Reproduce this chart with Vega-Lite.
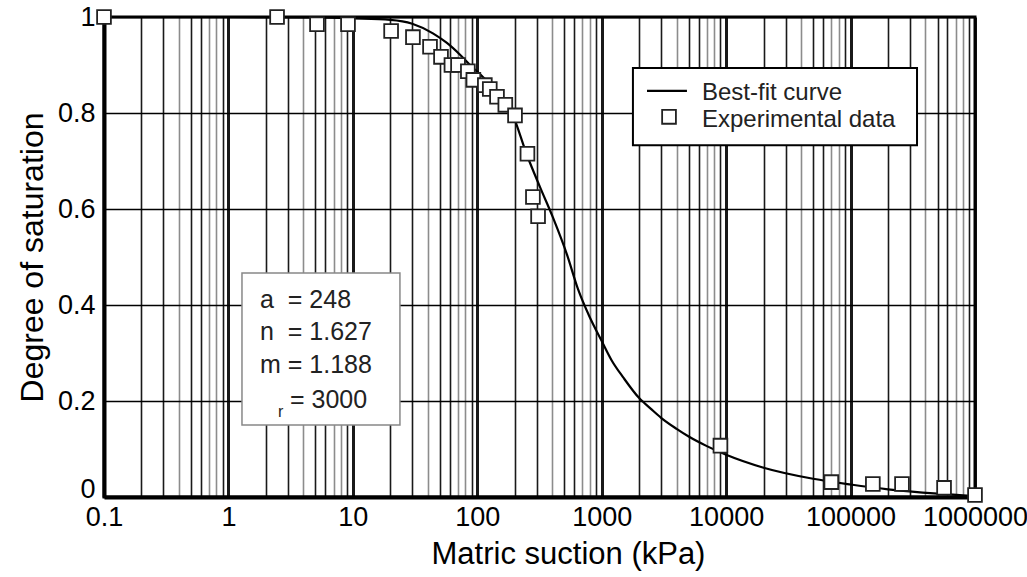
{
  "$schema": "https://vega.github.io/schema/vega-lite/v6.json",
  "width": 871,
  "height": 480,
  "autosize": {"type": "none"},
  "padding": {"left": 104, "top": 17, "right": 52, "bottom": 80},
  "background": "white",
  "config": {
    "font": "Liberation Sans",
    "view": {"stroke": "black", "strokeWidth": 3}
  },
  "datasets": {
    "curve": [
      {"psi": 0.1, "s": 1.0}, {"psi": 1, "s": 1.0}, {"psi": 5, "s": 0.999}, {"psi": 10, "s": 0.997},
      {"psi": 20, "s": 0.994}, {"psi": 30, "s": 0.986}, {"psi": 44, "s": 0.966}, {"psi": 57, "s": 0.946},
      {"psi": 73, "s": 0.921}, {"psi": 90, "s": 0.897}, {"psi": 111, "s": 0.875}, {"psi": 144, "s": 0.846},
      {"psi": 190, "s": 0.8}, {"psi": 251, "s": 0.712}, {"psi": 320, "s": 0.645}, {"psi": 406, "s": 0.582},
      {"psi": 526, "s": 0.505}, {"psi": 645, "s": 0.433}, {"psi": 800, "s": 0.375}, {"psi": 1000, "s": 0.325},
      {"psi": 1200, "s": 0.285}, {"psi": 1500, "s": 0.248}, {"psi": 2000, "s": 0.206}, {"psi": 2500, "s": 0.183},
      {"psi": 3000, "s": 0.165}, {"psi": 4000, "s": 0.142}, {"psi": 5000, "s": 0.126},
      {"psi": 7000, "s": 0.106}, {"psi": 10000, "s": 0.088}, {"psi": 20000, "s": 0.061}, {"psi": 50000, "s": 0.038},
      {"psi": 100000, "s": 0.026}, {"psi": 200000, "s": 0.016}, {"psi": 500000, "s": 0.007}, {"psi": 1000000, "s": 0.002}
    ],
    "experimental": [
      {"psi": 0.1, "s": 1.0}, {"psi": 2.46, "s": 1.0}, {"psi": 5.15, "s": 0.985}, {"psi": 9.14, "s": 0.985},
      {"psi": 20.3, "s": 0.971}, {"psi": 30.4, "s": 0.958}, {"psi": 41.7, "s": 0.938}, {"psi": 51.1, "s": 0.917},
      {"psi": 62, "s": 0.9}, {"psi": 70, "s": 0.9}, {"psi": 84, "s": 0.887}, {"psi": 93, "s": 0.869},
      {"psi": 115, "s": 0.858}, {"psi": 126, "s": 0.85}, {"psi": 144, "s": 0.834}, {"psi": 168, "s": 0.817},
      {"psi": 201, "s": 0.795}, {"psi": 253, "s": 0.715}, {"psi": 280, "s": 0.625}, {"psi": 308, "s": 0.585},
      {"psi": 9000, "s": 0.107}, {"psi": 70000, "s": 0.031}, {"psi": 151000, "s": 0.027}, {"psi": 259000, "s": 0.027},
      {"psi": 564000, "s": 0.019}, {"psi": 1000000, "s": 0.004}
    ],
    "paramBox": [{"psi": 1.285, "s": 0.4667, "psi2": 23.9, "s2": 0.15}],
    "legendBox": [{"psi": 1782, "s": 0.894, "psi2": 342000, "s2": 0.733}],
    "legendLine": [{"psi": 2312, "s": 0.846}, {"psi": 4842, "s": 0.846}],
    "legendSquare": [{"psi": 3475, "s": 0.792}],
    "legendText": [
      {"psi": 6397, "s": 0.827, "label": "Best-fit curve"},
      {"psi": 6397, "s": 0.771, "label": "Experimental data"}
    ],
    "paramText": [
      {"psi": 1.794, "s": 0.394, "label": "a\u00a0\u00a0= 248"},
      {"psi": 1.794, "s": 0.327, "label": "n\u00a0\u00a0= 1.627"},
      {"psi": 1.794, "s": 0.258, "label": "m = 1.188"},
      {"psi": 3.124, "s": 0.185, "label": "= 3000"}
    ],
    "paramSub": [{"psi": 2.5, "s": 0.167, "label": "r"}]
  },
  "encoding": {
    "x": {
      "field": "psi",
      "type": "quantitative",
      "scale": {"type": "log", "domain": [0.1, 1000000], "nice": false, "zero": false},
      "axis": {
        "title": "Matric suction (kPa)",
        "values": [0.1, 0.2, 0.3, 0.4, 0.5, 0.6, 0.7, 0.8, 0.9,
                   1, 2, 3, 4, 5, 6, 7, 8, 9,
                   10, 20, 30, 40, 50, 60, 70, 80, 90,
                   100, 200, 300, 400, 500, 600, 700, 800, 900,
                   1000, 2000, 3000, 4000, 5000, 6000, 7000, 8000, 9000,
                   10000, 20000, 30000, 40000, 50000, 60000, 70000, 80000, 90000,
                   100000, 200000, 300000, 400000, 500000, 600000, 700000, 800000, 900000,
                   1000000],
        "labelExpr": "abs(log(datum.value)/LN10 - round(log(datum.value)/LN10)) < 1e-6 ? format(datum.value, '~f') : ''",
        "labelOverlap": false,
        "labelFlush": false,
        "labelFontSize": 27,
        "labelColor": "black",
        "labelPadding": 7,
        "labelDx": -5,
        "ticks": false,
        "domainColor": "black",
        "domainWidth": 4,
        "grid": true,
        "gridColor": "black",
        "gridWidth": {"condition": {"test": "abs(log(datum.value)/LN10 - round(log(datum.value)/LN10)) < 1e-6", "value": 3}, "value": 1.6},
        "gridOpacity": {"condition": {"test": "indexof([4,7,8], round(datum.value/pow(10, floor(log(datum.value)/LN10 + 1e-9)))) >= 0", "value": 0.45}, "value": 0.9},
        "titleFontSize": 31,
        "titleFontWeight": "normal",
        "titleColor": "black",
        "titlePadding": 9,
        "titleX": 464
      }
    },
    "y": {
      "field": "s",
      "type": "quantitative",
      "scale": {"domain": [0, 1], "nice": false},
      "axis": {
        "title": "Degree of saturation",
        "values": [0, 0.2, 0.4, 0.6, 0.8, 1],
        "format": ".1~f",
        "labelFontSize": 27,
        "labelColor": "black",
        "labelPadding": 9,
        "labelFlush": false,
        "labelBaseline": {"condition": {"test": "datum.value === 0", "value": "alphabetic"}, "value": "middle"},
        "ticks": false,
        "domainColor": "black",
        "domainWidth": 4,
        "grid": true,
        "gridColor": "black",
        "gridWidth": 1.6,
        "titleFontSize": 32,
        "titleFontWeight": "normal",
        "titleColor": "black",
        "titlePadding": 8
      }
    }
  },
  "layer": [
    {
      "data": {"name": "paramBox"},
      "mark": {"type": "rect", "fill": "white", "stroke": "#888888", "strokeWidth": 1.5},
      "encoding": {"x2": {"field": "psi2"}, "y2": {"field": "s2"}}
    },
    {
      "data": {"name": "paramText"},
      "mark": {"type": "text", "align": "left", "baseline": "alphabetic", "fontSize": 25, "color": "#222222"},
      "encoding": {"text": {"field": "label"}}
    },
    {
      "data": {"name": "paramSub"},
      "mark": {"type": "text", "align": "left", "baseline": "alphabetic", "fontSize": 16, "color": "#222222"},
      "encoding": {"text": {"field": "label"}}
    },
    {
      "data": {"name": "curve"},
      "mark": {"type": "line", "color": "black", "strokeWidth": 2.2, "interpolate": "monotone", "clip": false}
    },
    {
      "data": {"name": "experimental"},
      "mark": {"type": "point", "shape": "square", "filled": true, "fill": "white", "stroke": "#222222", "strokeWidth": 1.8, "size": 190, "opacity": 1}
    },
    {
      "data": {"name": "legendBox"},
      "mark": {"type": "rect", "fill": "white", "stroke": "black", "strokeWidth": 2},
      "encoding": {"x2": {"field": "psi2"}, "y2": {"field": "s2"}}
    },
    {
      "data": {"name": "legendLine"},
      "mark": {"type": "line", "color": "black", "strokeWidth": 2.2}
    },
    {
      "data": {"name": "legendSquare"},
      "mark": {"type": "point", "shape": "square", "filled": true, "fill": "white", "stroke": "#222222", "strokeWidth": 1.8, "size": 190, "opacity": 1}
    },
    {
      "data": {"name": "legendText"},
      "mark": {"type": "text", "align": "left", "baseline": "alphabetic", "fontSize": 24, "color": "#222222"},
      "encoding": {"text": {"field": "label"}}
    }
  ]
}
